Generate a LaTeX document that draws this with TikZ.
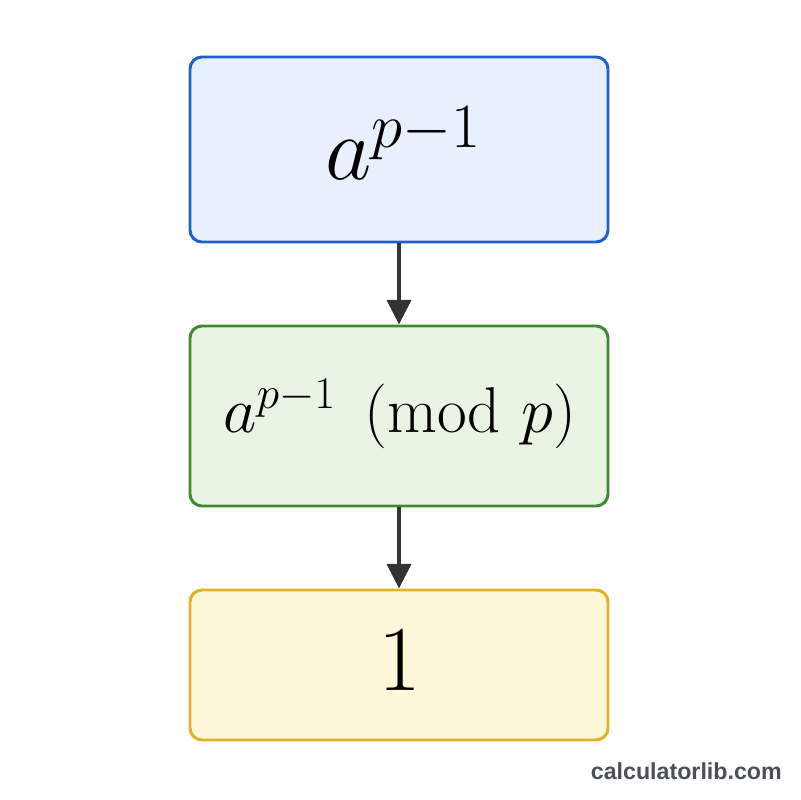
\RequirePackage{fix-cm}
\documentclass[tikz,border=0pt]{standalone}
\usepackage{amsmath}
\usepackage{fontspec}
\newfontfamily\wmfont{Liberation Sans}
\usetikzlibrary{arrows.meta}
\definecolor{bluefill}{HTML}{E8F0FD}
\definecolor{blueline}{HTML}{2160CC}
\definecolor{greenfill}{HTML}{E9F4E5}
\definecolor{greenline}{HTML}{3E8C30}
\definecolor{yellowfill}{HTML}{FDF7DA}
\definecolor{yellowline}{HTML}{E2B224}
\definecolor{arrowcol}{HTML}{333333}
\definecolor{wmcol}{HTML}{4A4F5A}
\tikzset{
  box/.style={draw, rounded corners=8.5pt, line width=2.1pt, minimum width=418*0.025cm, inner sep=0pt},
  lbl/.style={anchor=base, inner sep=0pt},
  conn/.style={draw=arrowcol, line width=2.8pt, -{Triangle[length=17.5pt,width=17pt]}}
}
\begin{document}
\begin{tikzpicture}[x=0.025cm,y=-0.025cm]
\useasboundingbox[fill=white] (0,0) rectangle (800,800);
\node[box, fill=bluefill, draw=blueline, minimum height=185*0.025cm] (top) at (399,149.5) {};
\node[box, fill=greenfill, draw=greenline, minimum height=180*0.025cm] (mid) at (399,416) {};
\node[box, fill=yellowfill, draw=yellowline, minimum height=150*0.025cm] (bot) at (399,665) {};
\node[lbl] (toptext) at (403,180) {\fontsize{64}{72}\selectfont$a^{p-1}$};
\node[lbl] (midtext) at (400,432) {\fontsize{46}{54}\selectfont$a^{p-1} \pmod{p}$};
\node[lbl] (bottext) at (400,690) {\fontsize{66}{74}\selectfont$1$};
\draw[conn] (top.south) -- (mid.north);
\draw[conn] (mid.south) -- (bot.north);
\node[anchor=base east, text=wmcol, font=\wmfont\bfseries\fontsize{16.5}{20}\selectfont, inner sep=0pt] (wm) at (782,779) {calculatorlib.com};
\end{tikzpicture}
\end{document}
